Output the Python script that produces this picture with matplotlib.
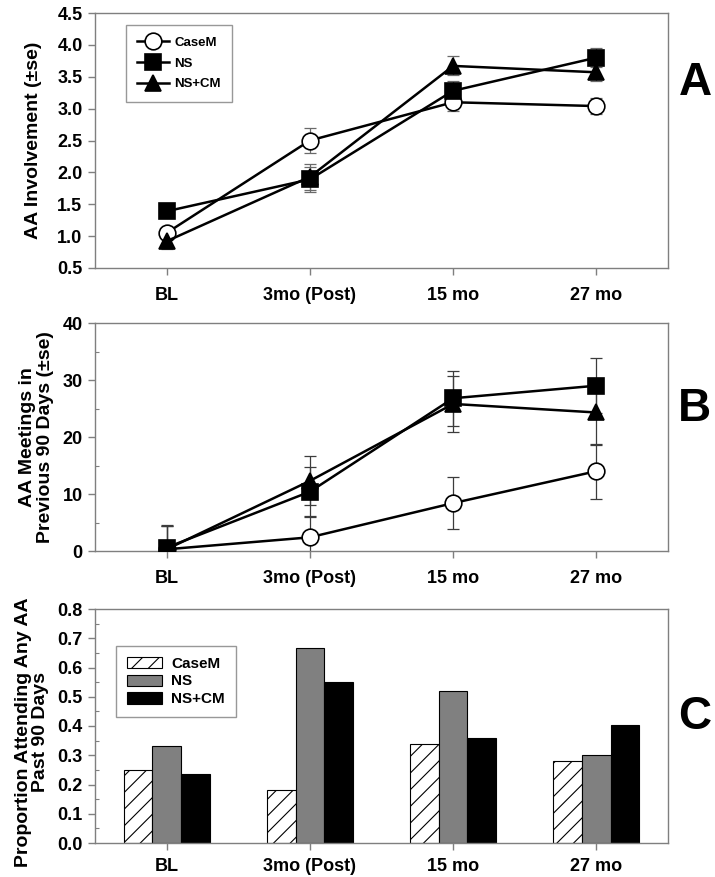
import matplotlib
matplotlib.use("Agg")
import matplotlib.pyplot as plt
from matplotlib.ticker import MultipleLocator, FormatStrFormatter
from matplotlib.transforms import blended_transform_factory
import numpy as np

plt.rcParams['font.family'] = ['Liberation Sans', 'DejaVu Sans']
plt.rcParams['font.weight'] = 'bold'
plt.rcParams['hatch.linewidth'] = 0.8

categories = ["BL", "3mo (Post)", "15 mo", "27 mo"]
groups = ["CaseM", "NS", "NS+CM"]

# Panel A: AA involvement
inv_casem = [1.05, 2.50, 3.10, 3.04]
inv_ns = [1.39, 1.89, 3.28, 3.80]
inv_nscm = [0.92, 1.93, 3.67, 3.57]
inv_casem_se = [0.08, 0.20, 0.14, 0.13]
inv_ns_se = [0.08, 0.19, 0.15, 0.15]
inv_nscm_se = [0.12, 0.20, 0.15, 0.14]

# Panel B: AA meetings in previous 90 days
mtg_casem = [0.3, 2.4, 8.4, 14.0]
mtg_ns = [0.6, 10.4, 26.8, 29.0]
mtg_nscm = [0.3, 12.3, 25.8, 24.3]
mtg_casem_se = [4.0, 3.7, 4.6, 4.8]
mtg_ns_se = [4.0, 4.4, 4.8, 4.8]
mtg_nscm_se = [4.1, 4.3, 4.9, 5.7]

# Panel C: proportion attending any AA
prop_casem = [0.25, 0.18, 0.34, 0.28]
prop_ns = [0.33, 0.667, 0.52, 0.30]
prop_nscm = [0.236, 0.55, 0.36, 0.404]

fig = plt.figure(figsize=(7.15, 8.77), dpi=100)
L, W = 95 / 715, 573 / 715
H = 877
axA = fig.add_axes([L, 1 - 268 / H, W, 255 / H])
axB = fig.add_axes([L, 1 - 551 / H, W, 228 / H])
axC = fig.add_axes([L, 1 - 843 / H, W, 234 / H])

x = np.arange(len(categories))
spine_col = '#7f7f7f'
tick_fs = 13
label_font = dict(weight='bold', size=14)


def style_axes(ax, xpad=9):
    for s in ax.spines.values():
        s.set_color(spine_col)
        s.set_linewidth(1.0)
    ax.set_xlim(-0.5, 3.5)
    ax.set_xticks(x)
    ax.set_xticklabels(categories)
    ax.tick_params(axis='both', which='major', direction='out', color=spine_col,
                   length=5, width=1.0, labelsize=tick_fs, pad=4)
    ax.tick_params(axis='x', pad=xpad)
    ax.tick_params(axis='y', which='minor', direction='in', color=spine_col, length=3, width=0.8)
    for t in ax.get_xticklabels() + ax.get_yticklabels():
        t.set_fontweight('bold')


markers = {"CaseM": dict(marker='o', mfc='white', ms=12),
           "NS": dict(marker='s', mfc='black', ms=11),
           "NS+CM": dict(marker='^', mfc='black', ms=12)}


def draw_lines(ax, series, ses, ecol):
    handles = []
    for name, y, se in zip(groups, series, ses):
        ax.errorbar(x, y, yerr=se, fmt='none', ecolor=ecol, elinewidth=0.9,
                    capsize=4, capthick=0.9, zorder=2)
    for name, y in zip(groups, series):
        m = markers[name]
        h, = ax.plot(x, y, color='black', lw=1.8, marker=m['marker'], mfc=m['mfc'],
                     mec='black', mew=1.2, ms=m['ms'], label=name, zorder=3)
        handles.append(h)
    return handles


# Panel A
style_axes(axA)
hA = draw_lines(axA, [inv_casem, inv_ns, inv_nscm], [inv_casem_se, inv_ns_se, inv_nscm_se], '#6a6a6a')
axA.set_ylim(0.5, 4.5)
axA.yaxis.set_major_locator(MultipleLocator(0.5))
axA.yaxis.set_major_formatter(FormatStrFormatter('%.1f'))
axA.set_ylabel("AA Involvement (±se)", **label_font)
axA.yaxis.set_label_coords(-0.092, 0.5)
legA = axA.legend(handles=hA, loc='upper left', bbox_to_anchor=(0.054, 0.952), borderaxespad=0,
                  frameon=True, fancybox=False, edgecolor=spine_col, prop=dict(size=9.5, weight='bold'),
                  handlelength=2.4, borderpad=0.85, labelspacing=0.65, markerscale=1.0,
                  handletextpad=0.4)
legA.get_frame().set_linewidth(1.0)

# Panel B
style_axes(axB)
hB = draw_lines(axB, [mtg_casem, mtg_ns, mtg_nscm], [mtg_casem_se, mtg_ns_se, mtg_nscm_se], '#3c3c3c')
axB.set_ylim(0, 40)
axB.yaxis.set_major_locator(MultipleLocator(10))
axB.yaxis.set_minor_locator(MultipleLocator(5))
axB.set_ylabel("AA Meetings in\nPrevious 90 Days (±se)", linespacing=1.05, **label_font)
axB.yaxis.set_label_coords(-0.072, 0.5)

# Panel C
style_axes(axC, xpad=6)
bw = 0.2
axC.bar(x - bw, prop_casem, bw, color='white', edgecolor='black', hatch='//', lw=0.8,
        label=groups[0], zorder=2)
axC.bar(x, prop_ns, bw, color='#808080', edgecolor='black', lw=0.8, label=groups[1], zorder=2)
axC.bar(x + bw, prop_nscm, bw, color='black', edgecolor='black', lw=0.8, label=groups[2], zorder=2)
axC.set_ylim(0, 0.8)
axC.yaxis.set_major_locator(MultipleLocator(0.1))
axC.yaxis.set_minor_locator(MultipleLocator(0.05))
axC.yaxis.set_major_formatter(FormatStrFormatter('%.1f'))
axC.set_ylabel("Proportion Attending Any AA\nPast 90 Days", linespacing=1.05, **label_font)
axC.yaxis.set_label_coords(-0.08, 0.474)
legC = axC.legend(loc='upper left', bbox_to_anchor=(0.037, 0.842), borderaxespad=0,
                  frameon=True, fancybox=False, edgecolor=spine_col, prop=dict(size=11, weight='bold'),
                  handlelength=2.3, handleheight=0.75, borderpad=0.7, labelspacing=0.25,
                  handletextpad=0.6)
legC.get_frame().set_linewidth(1.0)

# Panel letters
letter_font = dict(weight='bold', size=33)
for ax, letter, yv in [(axA, 'A', 3.40), (axB, 'B', 25.0), (axC, 'C', 0.432)]:
    tr = blended_transform_factory(ax.transAxes, ax.transData)
    ax.text(1.047, yv, letter, transform=tr, ha='center', va='center', clip_on=False, **letter_font)

fig.savefig("out.png", dpi=100)
